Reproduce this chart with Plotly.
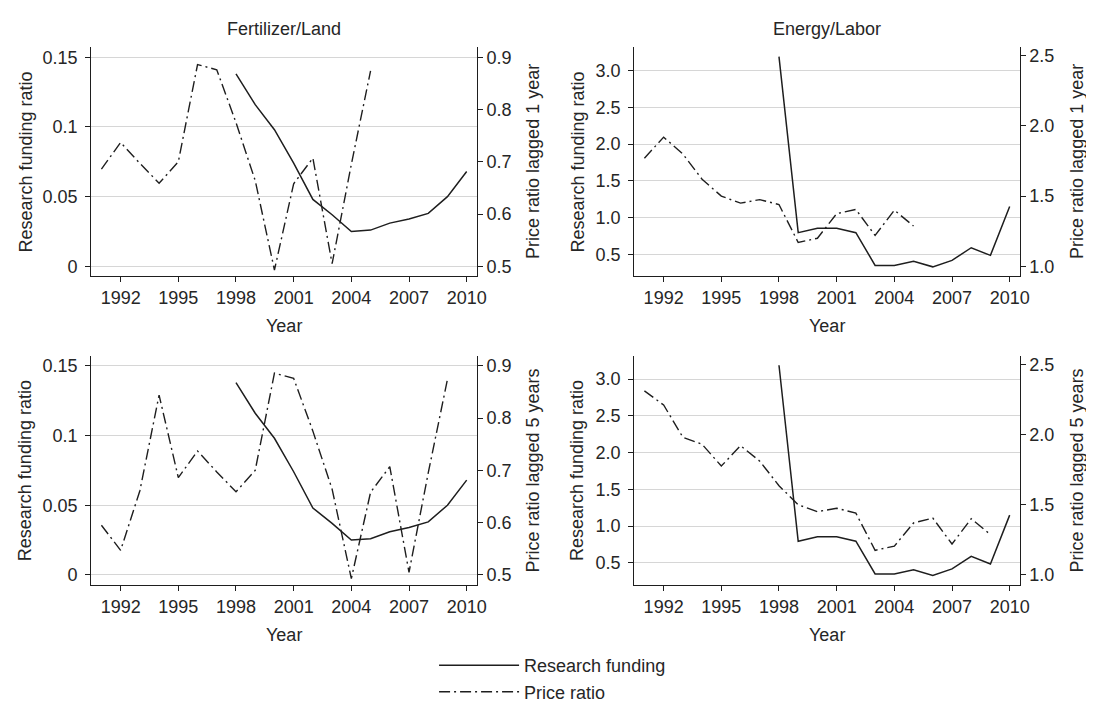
import plotly.graph_objects as go

# ---------------- data ----------------
years_rf = list(range(1998, 2011))
years_lag1 = list(range(1991, 2006))
years_lag5 = list(range(1991, 2010))

fert_research = [0.138, 0.116, 0.098, 0.074, 0.048, 0.037, 0.025, 0.026, 0.031, 0.034, 0.038, 0.050, 0.068]
energy_research = [3.19, 0.795, 0.855, 0.855, 0.795, 0.35, 0.35, 0.405, 0.33, 0.418, 0.59, 0.486, 1.15]

fert_price_lag1 = [0.686, 0.737, 0.697, 0.659, 0.700, 0.886, 0.876, 0.775, 0.664, 0.493, 0.658, 0.707, 0.505, 0.695, 0.874]
fert_price_lag5 = [0.595, 0.547, 0.661, 0.844, 0.686, 0.737, 0.697, 0.659, 0.700, 0.886, 0.876, 0.775, 0.664, 0.493,
                   0.658, 0.707, 0.505, 0.695, 0.874]
energy_price_lag1 = [1.77, 1.92, 1.80, 1.62, 1.50, 1.45, 1.475, 1.44, 1.17, 1.20, 1.375, 1.405, 1.22, 1.40, 1.287]
energy_price_lag5 = [2.31, 2.21, 1.98, 1.93, 1.775, 1.92, 1.81, 1.635, 1.50, 1.45, 1.475, 1.44, 1.175, 1.205,
                     1.37, 1.405, 1.22, 1.40, 1.287]

panel_titles = ["Fertilizer/Land", "Energy/Labor"]
x_ticks = [1992, 1995, 1998, 2001, 2004, 2007, 2010]
fert_left_ticks = [0, 0.05, 0.1, 0.15]
fert_left_labels = ["0", "0.05", "0.1", "0.15"]
fert_right_ticks = [0.5, 0.6, 0.7, 0.8, 0.9]
fert_right_labels = ["0.5", "0.6", "0.7", "0.8", "0.9"]
energy_left_ticks = [0.5, 1.0, 1.5, 2.0, 2.5, 3.0]
energy_left_labels = ["0.5", "1.0", "1.5", "2.0", "2.5", "3.0"]
energy_right_ticks = [1.0, 1.5, 2.0, 2.5]
energy_right_labels = ["1.0", "1.5", "2.0", "2.5"]

# ---------------- styling ----------------
W, H = 1094, 707
FONT = "Liberation Sans, Arial, Helvetica, sans-serif"
TXT = "#262626"
LINE = "#1e1e1e"
GRID = "#d6d6d6"
DASHDOT = "11px,4px,2px,4px"
FS = 18

def px_x(p):
    return p / W

def px_y(p):
    return 1 - p / H

col_x = [(84, 473), (632, 1021)]
row_y = [(38.3, 267.7), (347.3, 576.7)]
left_title_off = [66, 57]
right_title_off = [57, 58]

fig = go.Figure()

panels = [
    (0, 0, fert_research, fert_price_lag1, years_lag1, [-0.00717, 0.15717], [0.4809, 0.9191],
     (fert_left_ticks, fert_left_labels), (fert_right_ticks, fert_right_labels), "Price ratio lagged 1 year"),
    (0, 1, energy_research, energy_price_lag1, years_lag1, [0.201, 3.318], [0.929, 2.56],
     (energy_left_ticks, energy_left_labels), (energy_right_ticks, energy_right_labels), "Price ratio lagged 1 year"),
    (1, 0, fert_research, fert_price_lag5, years_lag5, [-0.00717, 0.15717], [0.4809, 0.9191],
     (fert_left_ticks, fert_left_labels), (fert_right_ticks, fert_right_labels), "Price ratio lagged 5 years"),
    (1, 1, energy_research, energy_price_lag5, years_lag5, [0.201, 3.318], [0.929, 2.56],
     (energy_left_ticks, energy_left_labels), (energy_right_ticks, energy_right_labels), "Price ratio lagged 5 years"),
]

annotations = []
layout = {}
for i, (r, c, research, price, yrs, lrange, rrange, lt, rt, rtitle) in enumerate(panels):
    xn = i + 1
    yl = 2 * i + 1
    yr = 2 * i + 2
    xa = "x" if xn == 1 else f"x{xn}"
    ya_l = "y" if yl == 1 else f"y{yl}"
    ya_r = f"y{yr}"
    x0, x1 = col_x[c]
    y0, y1 = row_y[r]
    xdom = [px_x(x0), px_x(x1)]
    ydom = [px_y(y1), px_y(y0)]

    fig.add_trace(go.Scatter(x=years_rf, y=research, mode="lines", name="Research funding",
                             line=dict(color=LINE, width=1.5), xaxis=xa, yaxis=ya_l,
                             showlegend=(i == 0), legendrank=1))
    fig.add_trace(go.Scatter(x=yrs, y=price, mode="lines", name="Price ratio",
                             line=dict(color=LINE, width=1.4, dash=DASHDOT), xaxis=xa, yaxis=ya_r,
                             showlegend=(i == 0), legendrank=2))

    common = dict(showline=True, linecolor=LINE, linewidth=1.2, ticks="outside", ticklen=5,
                  tickwidth=1.2, tickcolor=LINE, tickfont=dict(family=FONT, size=FS, color=TXT),
                  zeroline=False)
    layout[f"xaxis{xn}"] = dict(domain=xdom, anchor=ya_l, range=[1990.47, 2010.52], tickmode="array",
                                tickvals=x_ticks, ticktext=[str(v) for v in x_ticks], showgrid=False,
                                **common)
    layout[f"yaxis{yl}"] = dict(domain=ydom, anchor=xa, range=lrange, tickmode="array", tickvals=lt[0],
                                ticktext=lt[1], showgrid=True, gridcolor=GRID, gridwidth=1.2, side="left",
                                ticklabelstandoff=4, **common)
    layout[f"yaxis{yr}"] = dict(domain=ydom, anchor=xa, overlaying=ya_l, range=rrange, tickmode="array",
                                tickvals=rt[0], ticktext=rt[1], showgrid=False, side="right", **common)

    xc = (x0 + x1) / 2
    annotations.append(dict(text="Year", x=px_x(xc), y=px_y(y1 + 50), xref="paper", yref="paper",
                            showarrow=False, font=dict(family=FONT, size=FS, color=TXT),
                            xanchor="center", yanchor="middle"))
    yc = (y0 + y1) / 2
    annotations.append(dict(text="Research funding ratio", x=px_x(x0 - left_title_off[c]), y=px_y(yc),
                            xref="paper", yref="paper", showarrow=False, textangle=-90,
                            font=dict(family=FONT, size=FS, color=TXT), xanchor="center", yanchor="middle"))
    annotations.append(dict(text=rtitle, x=px_x(x1 + right_title_off[c]), y=px_y(yc), xref="paper",
                            yref="paper", showarrow=False, textangle=-90,
                            font=dict(family=FONT, size=FS, color=TXT), xanchor="center", yanchor="middle"))
    if r == 0:
        annotations.append(dict(text=panel_titles[c], x=px_x(xc), y=px_y(20), xref="paper", yref="paper",
                                showarrow=False, font=dict(family=FONT, size=FS, color=TXT),
                                xanchor="center", yanchor="middle"))

fig.update_layout(
    width=W, height=H, margin=dict(l=0, r=0, t=0, b=0),
    paper_bgcolor="white", plot_bgcolor="white",
    font=dict(family=FONT, size=FS, color=TXT),
    annotations=annotations,
    legend=dict(x=px_x(430), y=px_y(639), xanchor="left", yanchor="top", orientation="v",
                font=dict(family=FONT, size=FS, color=TXT), itemwidth=80, tracegroupgap=2,
                bgcolor="rgba(0,0,0,0)"),
    **layout,
)

fig.write_html("out.html")
